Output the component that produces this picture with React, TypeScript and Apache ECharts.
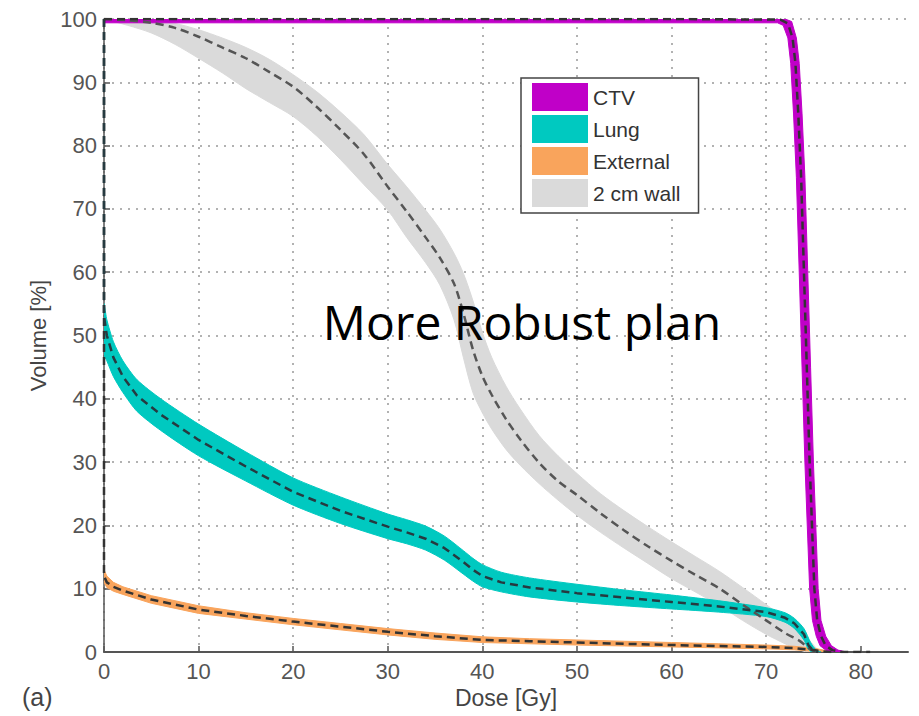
import React, { useEffect, useRef } from "react";
import * as echarts from "echarts";

// ---------- data ----------
const doseTicks = [0, 10, 20, 30, 40, 50, 60, 70, 80];
const volumeTicks = [0, 10, 20, 30, 40, 50, 60, 70, 80, 90, 100];
const legendNames = ["CTV", "Lung", "External", "2 cm wall"];

// nominal curves [dose Gy, volume %]
const ctvNominal = [[0, 100], [60, 100], [71.5, 99.9], [72.3, 99.3], [72.8, 97], [73.1, 93], [73.4, 85], [73.7, 75], [74.0, 60], [74.3, 45], [74.6, 30], [74.9, 18], [75.1, 10], [75.4, 5], [75.8, 2.5], [76.3, 1], [77, 0.3], [78, 0], [81, 0]];
const lungNominal = [[0, 100], [0, 53], [0.3, 50], [1, 46.5], [2, 43.5], [3.5, 40.5], [6, 37.5], [10, 33.5], [15, 29.3], [20, 25.3], [25, 22.3], [30, 19.8], [32, 18.9], [34, 17.9], [36, 16.4], [38, 14.2], [39, 13], [40, 12], [42, 11], [45, 10.2], [50, 9.3], [55, 8.6], [60, 7.9], [65, 7.2], [70, 6.3], [72, 5.4], [73, 4.5], [74, 2.8], [74.5, 1], [75, 0.2], [75.5, 0]];
const externalNominal = [[0, 100], [0, 12], [0.3, 11], [1, 10.3], [2, 9.7], [5, 8.3], [10, 6.7], [15, 5.7], [20, 4.8], [25, 4], [30, 3.2], [35, 2.5], [40, 1.9], [45, 1.7], [50, 1.5], [55, 1.3], [60, 1.1], [65, 0.95], [70, 0.8], [73, 0.6], [75, 0.3], [76, 0.1], [77, 0]];
const wallNominal = [[0, 100], [2.5, 99.8], [5, 99.4], [7.5, 98.6], [10, 97.2], [12.5, 95.5], [15, 93.8], [17.5, 91.6], [20, 89.3], [22.5, 86.1], [25, 82.5], [27.5, 78.6], [30, 73.5], [32, 69.6], [34, 65.5], [35.5, 62.3], [37, 58.2], [38, 53.5], [39, 47.8], [40, 43.6], [41, 40.6], [42.5, 36.8], [44, 33.6], [46, 29.9], [48, 27], [50, 24.8], [52.5, 21.9], [55, 19.2], [57.5, 16.7], [60, 14.4], [62.5, 12.2], [65, 10.1], [67.5, 7.5], [70, 5], [72, 3], [73.5, 1.8], [74.5, 0.6], [75.2, 0]];

// uncertainty bands: upper and lower edges
const ctvUpper = [[0, 100], [72.0, 100], [72.7, 99.6], [73.2, 97], [73.5, 93], [73.8, 85], [74.1, 75], [74.4, 60], [74.7, 45], [75.0, 30], [75.3, 18], [75.5, 10], [75.8, 5], [76.3, 2.5], [76.9, 1], [77.6, 0.3], [78.5, 0]];
const ctvLower = [[0, 99.4], [71.2, 99.4], [71.8, 99], [72.3, 97], [72.6, 93], [72.9, 85], [73.2, 75], [73.5, 60], [73.8, 45], [74.1, 30], [74.4, 18], [74.6, 10], [74.9, 5], [75.3, 2.5], [75.7, 1], [76.3, 0.3], [77, 0]];
const lungUpper = [[0, 55], [0.3, 52.5], [1, 49], [2, 46], [3.5, 43], [6, 40], [10, 36], [15, 31.6], [20, 27.5], [25, 24.5], [30, 21.8], [32, 20.9], [34, 19.9], [36, 18.3], [38, 16.0], [39, 14.8], [40, 13.8], [42, 12.6], [45, 11.7], [50, 10.7], [55, 9.8], [60, 9.0], [65, 8.1], [70, 7.0], [72, 6.2], [73, 5.3], [74, 3.7], [74.7, 1.5], [75.3, 0.3], [75.8, 0]];
const lungLower = [[0, 47], [0.3, 46], [1, 43.5], [2, 41], [3.5, 38], [6, 35], [10, 31], [15, 27], [20, 23.2], [25, 20.3], [30, 17.9], [32, 17.1], [34, 16.1], [36, 14.5], [38, 12.3], [39, 11.2], [40, 10.3], [42, 9.5], [45, 8.7], [50, 7.9], [55, 7.3], [60, 6.8], [65, 6.3], [70, 5.6], [72, 4.7], [73, 3.7], [74, 1.9], [74.4, 0.6], [74.8, 0]];
const externalUpper = [[0, 13], [0.3, 12], [1, 11], [2, 10.3], [5, 8.9], [10, 7.3], [15, 6.2], [20, 5.3], [25, 4.5], [30, 3.7], [35, 3], [40, 2.4], [45, 2.1], [50, 1.9], [55, 1.7], [60, 1.5], [65, 1.3], [70, 1.1], [73, 0.9], [75, 0.6], [76.5, 0.2], [77.5, 0]];
const externalLower = [[0, 11], [0.3, 10.2], [1, 9.6], [2, 9.1], [5, 7.7], [10, 6.1], [15, 5.2], [20, 4.3], [25, 3.5], [30, 2.7], [35, 2.0], [40, 1.5], [45, 1.3], [50, 1.1], [55, 0.95], [60, 0.8], [65, 0.65], [70, 0.5], [73, 0.35], [75, 0.1], [76, 0]];
const wallUpper = [[0, 100], [2.5, 100], [5, 99.8], [7.5, 99.3], [10, 98.3], [12.5, 97], [15, 95.5], [17.5, 93.6], [20, 91.2], [22.5, 88.5], [25, 85.3], [27.5, 81.7], [30, 77], [32, 73.5], [34, 69.8], [35.5, 66.8], [37, 63], [38, 59.8], [39, 55.5], [40, 50.5], [41, 46.5], [42.5, 42], [44, 38.4], [46, 34.2], [48, 31], [50, 28.2], [52.5, 25], [55, 22.3], [57.5, 19.8], [60, 17.4], [62.5, 15.1], [65, 12.8], [67.5, 10.2], [70, 7.5], [72, 5.3], [73.5, 3.6], [74.5, 2], [75.3, 0.6], [75.8, 0]];
const wallLower = [[0, 100], [2.5, 99], [5, 97.8], [7.5, 96], [10, 93.8], [12.5, 91.5], [15, 89], [17.5, 86.8], [20, 84.6], [22.5, 81.5], [25, 77.8], [27.5, 73.8], [30, 69.8], [32, 65.5], [34, 61.5], [35.5, 58], [37, 52.5], [38, 46.5], [39, 41], [40, 37.8], [41, 35.2], [42.5, 32], [44, 29.5], [46, 26.6], [48, 24], [50, 21.6], [52.5, 18.9], [55, 16.4], [57.5, 14], [60, 11.6], [62.5, 9.5], [65, 7.4], [67.5, 5], [70, 2.8], [72, 1.3], [73, 0.6], [74, 0.1], [74.3, 0]];

const COLORS = {
  CTV: "#c000c8",
  Lung: "#00c9c0",
  External: "#f9a45c",
  Wall: "#dadada",
};

const FONT = "'Liberation Sans', Arial, Helvetica, sans-serif";

function bandSeries(name: string, color: string, upper: number[][], lower: number[][], z: number, smooth: number) {
  const pts = upper.concat(lower.slice().reverse());
  return {
    type: "custom",
    name,
    coordinateSystem: "cartesian2d",
    data: [upper[0]],
    encode: { x: 0, y: 1 },
    itemStyle: { color },
    silent: true,
    clip: true,
    z,
    renderItem: (_params: any, api: any) => ({
      type: "polygon",
      shape: { points: pts.map((p) => api.coord(p)), smooth },
      style: { fill: color, stroke: color, lineWidth: 1 },
    }),
  };
}

function nominalSeries(data: number[][], color: string, z: number, smooth: number | boolean) {
  return {
    type: "line",
    data,
    showSymbol: false,
    symbol: "none",
    silent: true,
    smooth,
    z,
    lineStyle: { color, width: 2.5, type: [8, 5] },
  };
}

export default function App() {
  const ref = useRef<HTMLDivElement>(null);

  useEffect(() => {
    if (!ref.current) return;
    const chart = echarts.init(ref.current, undefined, { renderer: "svg" });
    chart.setOption({
      animation: false,
      backgroundColor: "#ffffff",
      grid: { left: 104, right: 11, top: 19, bottom: 64, containLabel: false },
      xAxis: {
        type: "value",
        min: 0,
        max: 85,
        interval: 10,
        name: "Dose [Gy]",
        nameLocation: "middle",
        nameGap: 33,
        nameTextStyle: { fontSize: 23, color: "#444", fontFamily: FONT },
        axisLine: { show: true, lineStyle: { color: "#555", width: 2 } },
        axisTick: { show: true, inside: true, length: 6, lineStyle: { color: "#555", width: 1.5 }, customValues: doseTicks },
        axisLabel: { fontSize: 22, color: "#555", fontFamily: FONT, margin: 8, customValues: doseTicks },
        splitLine: { show: true, showMaxLine: false, lineStyle: { color: "#999", width: 1.5, type: [2, 6] } },
      },
      yAxis: {
        type: "value",
        min: 0,
        max: 100,
        interval: 10,
        name: "Volume [%]",
        nameLocation: "middle",
        nameGap: 55,
        nameRotate: 90,
        nameTextStyle: { fontSize: 22, color: "#444", fontFamily: FONT },
        axisLine: { show: true, lineStyle: { color: "#555", width: 1.5 } },
        axisTick: { show: true, inside: true, length: 6, lineStyle: { color: "#555", width: 1.5 } },
        axisLabel: { fontSize: 22, color: "#555", fontFamily: FONT, margin: 7, customValues: volumeTicks },
        splitLine: { show: true, showMinLine: false, lineStyle: { color: "#999", width: 1.5, type: [2, 6] } },
      },
      legend: {
        show: true,
        orient: "vertical",
        left: 521,
        top: 78,
        itemWidth: 56,
        itemHeight: 28,
        itemGap: 4,
        padding: [5, 18, 6, 11],
        borderColor: "#444",
        borderWidth: 1.5,
        backgroundColor: "#ffffff",
        selectedMode: false,
        textStyle: { fontSize: 21, color: "#333", fontFamily: FONT },
        data: legendNames.map((n) => ({ name: n, icon: "rect" })),
        z: 10,
      },
      graphic: [
        {
          type: "text",
          x: 522,
          y: 321,
          z: 100,
          style: {
            text: "More Robust plan",
            fill: "#000",
            font: "48px 'Open Sans', Calibri, sans-serif",
            align: "center",
            verticalAlign: "middle",
          },
        },
        {
          type: "text",
          x: 22,
          y: 697,
          z: 100,
          style: {
            text: "(a)",
            fill: "#444",
            font: `25px ${FONT}`,
            align: "left",
            verticalAlign: "middle",
          },
        },
      ],
      series: [
        bandSeries("2 cm wall", COLORS.Wall, wallUpper, wallLower, 2, 0.3),
        bandSeries("External", COLORS.External, externalUpper, externalLower, 2, 0),
        bandSeries("Lung", COLORS.Lung, lungUpper, lungLower, 2, 0.25),
        bandSeries("CTV", COLORS.CTV, ctvUpper, ctvLower, 2, 0),
        nominalSeries(wallNominal, "#555", 3, 0.3),
        nominalSeries(externalNominal, "#333", 3, false),
        nominalSeries(lungNominal, "#263a40", 3, false),
        nominalSeries(ctvNominal, "#333", 3, false),
      ],
    });
    return () => chart.dispose();
  }, []);

  return (
    <div
      ref={ref}
      style={{ position: "fixed", left: 0, top: 0, width: 919, height: 716, background: "#fff" }}
    />
  );
}
